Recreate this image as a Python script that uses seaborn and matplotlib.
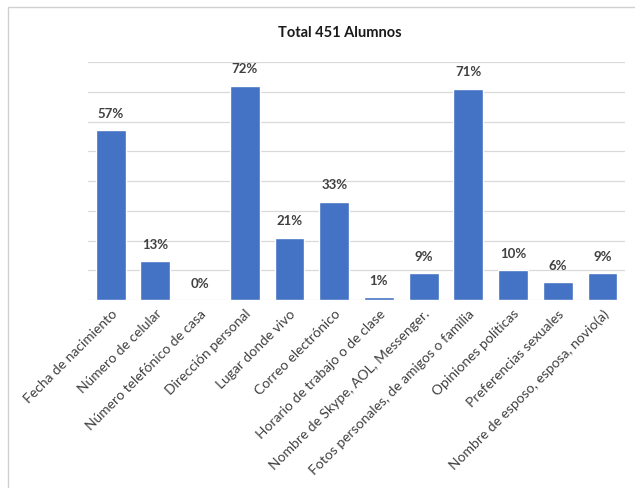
import matplotlib
matplotlib.use("Agg")
import matplotlib.pyplot as plt
import seaborn as sns
import pandas as pd

categorias = [
    "Fecha de nacimiento",
    "Número de celular",
    "Número telefónico de casa",
    "Dirección personal",
    "Lugar donde vivo",
    "Correo electrónico",
    "Horario de trabajo o de clase",
    "Nombre de Skype, AOL, Messenger.",
    "Fotos personales, de amigos o familia",
    "Opiniones políticas",
    "Preferencias sexuales",
    "Nombre de esposo, esposa, novio(a)",
]
porcentajes = [57, 13, 0, 72, 21, 33, 1, 9, 71, 10, 6, 9]
titulo = "Total 451 Alumnos"

df = pd.DataFrame({"categoria": categorias, "pct": porcentajes})

sns.set_style("white")
plt.rcParams["font.family"] = ["Lato", "DejaVu Sans"]

fig = plt.figure(figsize=(6.35, 4.88), dpi=100)
ax = fig.add_axes([0.139, 0.385, 0.845, 0.488])

sns.barplot(data=df, x="categoria", y="pct", color="#4472C4", saturation=1,
            width=0.67, ax=ax, zorder=3)

ax.set_ylim(0, 80)
ax.set_yticks(range(0, 81, 10))
ax.yaxis.grid(True, color="#D9D9D9", linewidth=0.9, zorder=0)
ax.tick_params(axis="y", left=False, labelleft=False)
ax.tick_params(axis="x", bottom=False, pad=2)
for s in ax.spines.values():
    s.set_visible(False)
ax.set_xlabel("")
ax.set_ylabel("")

for lbl in ax.get_xticklabels():
    lbl.set_rotation(45)
    lbl.set_ha("right")
    lbl.set_rotation_mode("anchor")
    lbl.set_fontsize(10)
    lbl.set_color("#404040")

for i, v in enumerate(porcentajes):
    ax.text(i, v + 3.5, f"{v}%", ha="center", va="bottom", fontsize=9.5,
            fontweight="bold", color="#404040")

fig.text(0.535, 0.933, titulo, ha="center", va="center", fontsize=10.5,
         fontweight="bold", color="#1a1a1a")

# marco gris del gráfico
fig.add_artist(plt.Rectangle((0.013, -0.01), 0.99, 0.995, transform=fig.transFigure,
                             fill=False, edgecolor="#D0D0D0", linewidth=1))

fig.savefig("out.png", dpi=100)
